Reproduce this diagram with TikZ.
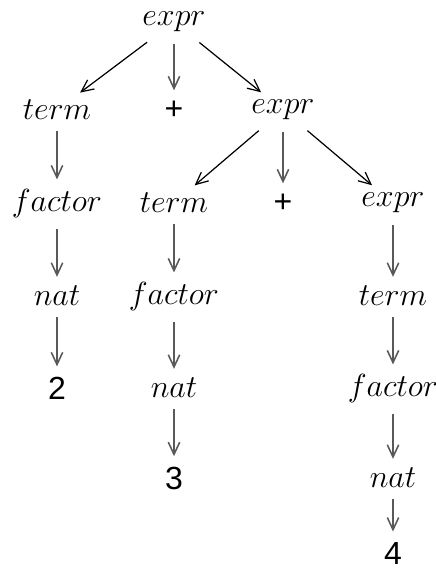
\documentclass[tikz,border=0pt]{standalone}
\usepackage{amsmath}
\usepackage{fontspec}
\newfontfamily\tokfont{Liberation Sans}
\usepackage{tikz}
\usetikzlibrary{arrows.meta}
\tikzset{>={Straight Barb[angle'=50,length=5.5pt]}}
\tikzset{
  sym/.style ={ font=\Large, inner sep=2pt },
  tok/.style ={ font=\Large\tokfont, inner sep=2.5pt },
  down/.style={->, draw=black!65, line width=0.7pt, shorten <= 3pt, shorten >= 2pt},
  side/.style={->, draw=black, line width=0.55pt, shorten <= 4pt, shorten >= 2pt}
}

\begin{document}
\begin{tikzpicture}[x=0.45pt,y=-0.45pt]
        \useasboundingbox (0,0) rectangle (435,570);
        \node[sym] (E) at (174, 22) {$expr$};
        \node[sym] (T1) at (57, 110) {$term$};
        \node[tok] (P1) at (174, 110) {+};
        \node[sym] (E2) at (283, 110) {$expr$};
        \node[sym] (F1) at (57, 203) {$factor$};
        \node[sym] (T2) at (174, 203) {$term$};
        \node[tok] (P2) at (283, 203) {+};
        \node[sym] (E3) at (393, 203) {$expr$};
        \node[sym] (N1) at (57, 296) {$nat$};
        \node[sym] (F2) at (174, 296) {$factor$};
        \node[sym] (T3) at (393, 296) {$term$};
        \node[tok] (D2) at (57, 388) {2};
        \node[sym] (N2) at (174, 388) {$nat$};
        \node[sym] (F3) at (393, 388) {$factor$};
        \node[tok] (D3) at (174, 478) {3};
        \node[sym] (N3) at (393, 478) {$nat$};
        \node[tok] (D4) at (393, 553) {4};
        \draw[side] (E) -- (T1);
        \draw[down] (E) -- (P1);
        \draw[side] (E) -- (E2);
        \draw[down] (T1) -- (F1);
        \draw[down] (F1) -- (N1);
        \draw[down] (N1) -- (D2);
        \draw[side] (E2) -- (T2);
        \draw[down] (E2) -- (P2);
        \draw[side] (E2) -- (E3);
        \draw[down] (T2) -- (F2);
        \draw[down] (F2) -- (N2);
        \draw[down] (N2) -- (D3);
        \draw[down] (E3) -- (T3);
        \draw[down] (T3) -- (F3);
        \draw[down] (F3) -- (N3);
        \draw[down] (N3) -- (D4);
      \end{tikzpicture}
\end{document}
